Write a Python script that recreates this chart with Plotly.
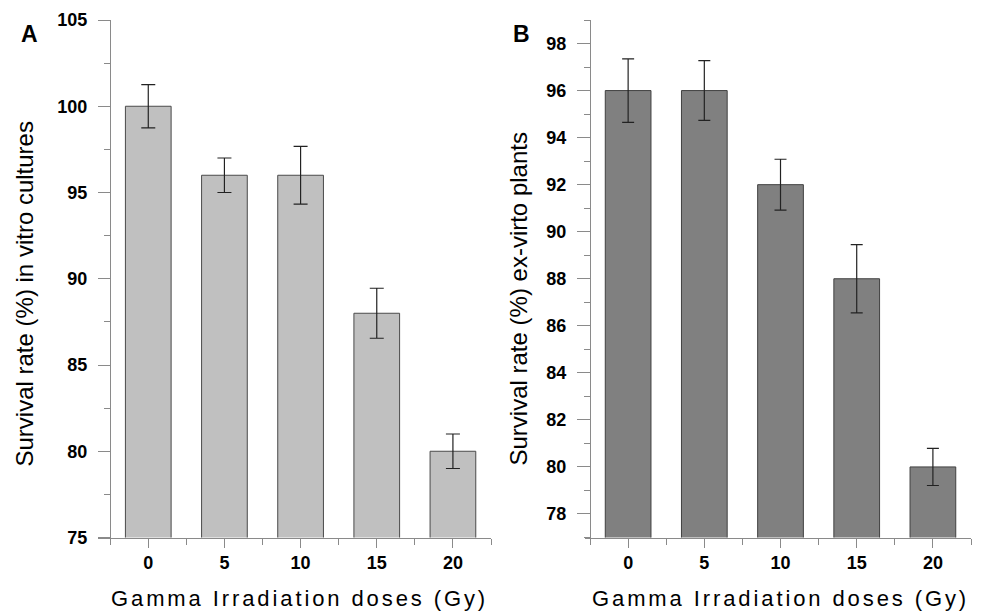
import plotly.graph_objects as go

# ---- data ----
doses = [0, 5, 10, 15, 20]
dose_labels = ["0", "5", "10", "15", "20"]
invitro_survival = [100, 96, 96, 88, 80]
invitro_err = [1.25, 1.0, 1.67, 1.45, 1.0]
exvitro_survival = [96, 96, 92, 88, 80]
exvitro_err = [1.35, 1.27, 1.08, 1.45, 0.79]
a_ticks = [75, 80, 85, 90, 95, 100, 105]
b_ticks = [78, 80, 82, 84, 86, 88, 90, 92, 94, 96, 98]

W, H = 981, 611
OFF = 8  # page body margin in the browser
FONT = "Liberation Sans, Arial, sans-serif"
AXIS_COLOR = "#8a8a8a"

def px(x):
    return (x - OFF) / W

def py(y):
    return (H - (y - OFF)) / H

fig = go.Figure()

fig.add_trace(go.Bar(
    x=doses, y=invitro_survival, width=3,
    marker=dict(color="#c0c0c0", line=dict(color="#4a4a4a", width=1)),
    error_y=dict(type="data", array=invitro_err, visible=True,
                 color="#222222", thickness=1.2, width=7),
    xaxis="x", yaxis="y", showlegend=False,
))
fig.add_trace(go.Bar(
    x=doses, y=exvitro_survival, width=3,
    marker=dict(color="#808080", line=dict(color="#404040", width=1)),
    error_y=dict(type="data", array=exvitro_err, visible=True,
                 color="#222222", thickness=1.2, width=6),
    xaxis="x2", yaxis="y2", showlegend=False,
))

ydom = [py(537.5), py(20)]
tickfont = dict(family=FONT, size=18, color="#000", weight="bold")

common_x = dict(
    tickmode="array", tickvals=doses, ticktext=dose_labels,
    ticks="outside", ticklen=9, tickwidth=1, tickcolor=AXIS_COLOR,
    showline=True, linecolor=AXIS_COLOR, linewidth=1,
    showgrid=False, zeroline=False, automargin=False,
    tickfont=tickfont, ticklabelstandoff=0,
    minor=dict(tick0=-2.5, dtick=5, ticks="outside", ticklen=6,
               tickcolor=AXIS_COLOR, showgrid=False),
    fixedrange=True,
)
common_y = dict(
    tickmode="array",
    ticks="outside", tickwidth=1, tickcolor=AXIS_COLOR,
    showline=True, linecolor=AXIS_COLOR, linewidth=1,
    showgrid=False, zeroline=False, automargin=False,
    tickfont=tickfont, ticklabelstandoff=7,
    fixedrange=True,
)

fig.update_layout(
    width=W, height=H,
    margin=dict(l=0, r=0, t=0, b=0),
    paper_bgcolor="white", plot_bgcolor="white",
    template="none",
    xaxis=dict(domain=[px(98), px(491)], range=[-3.3, 22.5], anchor="y", **common_x),
    yaxis=dict(domain=ydom, range=[75, 105], tickvals=a_ticks,
               anchor="free", position=px(110), ticklen=12,
               minor=dict(tick0=75, dtick=2.5, ticks="outside", ticklen=6,
                          tickcolor=AXIS_COLOR, showgrid=False),
               **common_y),
    xaxis2=dict(domain=[px(585), px(971)], range=[-2.83, 22.5], anchor="y2", **common_x),
    yaxis2=dict(domain=ydom, range=[77, 99], tickvals=b_ticks,
                anchor="free", position=px(590), ticklen=13,
                minor=dict(tick0=77, dtick=1, ticks="outside", ticklen=6,
                           tickcolor=AXIS_COLOR, showgrid=False),
                **common_y),
)

ann_font = dict(family=FONT, color="#000")
xtitle = '<span style="letter-spacing:2.9px">Gamma Irradiation doses (Gy)</span>'
annotations = [
    dict(text="Survival rate (%) in vitro cultures", x=px(24), y=py(294.5),
         textangle=-90, font=dict(size=24, **ann_font)),
    dict(text="Survival rate (%) ex-virto plants", x=px(518), y=py(298.5),
         textangle=-90, font=dict(size=24, **ann_font)),
    dict(text=xtitle, x=px(299), y=py(598), font=dict(size=22, **ann_font)),
    dict(text=xtitle, x=px(780), y=py(598), font=dict(size=22, **ann_font)),
    dict(text="<b>A</b>", x=px(29), y=py(34.5), font=dict(size=23, **ann_font)),
    dict(text="<b>B</b>", x=px(521), y=py(33.5), font=dict(size=23, **ann_font)),
]
for a in annotations:
    a.update(xref="paper", yref="paper", showarrow=False,
             xanchor="center", yanchor="middle")
fig.update_layout(annotations=annotations)

fig.write_html("out.html")
